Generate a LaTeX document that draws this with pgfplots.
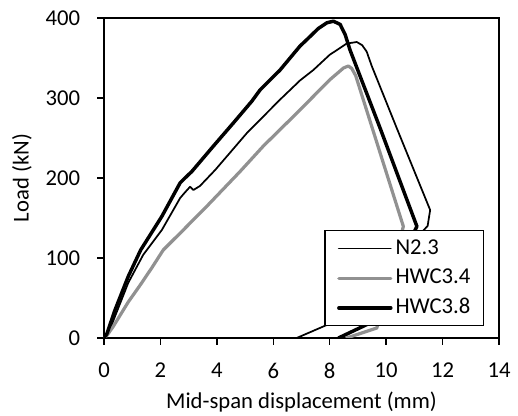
\documentclass[border=0pt]{standalone}
\usepackage{fontspec}
\setmainfont{Carlito}
\usepackage{pgfplots}
\pgfplotsset{compat=1.18}
\definecolor{hwcgray}{RGB}{145,145,145}
\begin{document}
\fontsize{17}{20}\selectfont
\begin{tikzpicture}
\begin{axis}[
  at={(0pt,0pt)}, anchor=south west,
  scale only axis,
  width=296.25pt, height=240pt,
  xmin=0, xmax=14, ymin=0, ymax=400,
  xtick={0,2,...,14}, ytick={0,100,...,400},
  tick align=outside, xtick pos=left, ytick pos=left,
  major tick length=5pt,
  axis line style={line width=1.1pt},
  every tick/.style={line width=1.1pt, black},
  /pgf/number format/assume math mode=true,
  ticklabel style={font=\fontsize{17}{20}\selectfont},
  xticklabel style={yshift=-8pt},
  yticklabel style={xshift=-7pt},
  label style={font=\fontsize{17}{20}\selectfont},
  xlabel={Mid-span displacement (mm)},
  ylabel={Load (kN)},
  xlabel style={at={(axis description cs:0.5,-0.2)}, anchor=center},
  ylabel style={at={(axis description cs:-0.2076,0.5)}, anchor=center},
  legend cell align=left,
  legend style={at={(axis description cs:0.962,0.0375)}, anchor=south east,
    draw=black, line width=0.9pt, fill=white, font=\fontsize{17}{20}\selectfont,
    inner xsep=7.5pt, inner ysep=2pt, row sep=0pt,
    nodes={inner xsep=2.25pt, inner ysep=2.4pt, text height=13pt, text depth=4.5pt}},
  legend image code/.code={\path (0pt,0pt); \draw[#1] (1.5pt,0pt) -- (40.5pt,0pt);},
  every axis plot/.append style={line join=round, line cap=round},
]
\addplot[black, line width=1.3pt] coordinates {
(0,0) (0.15,5) (0.39,27) (0.86,69) (1.39,104) (2.05,135) (2.7,175) (2.87,182)
(3.05,189) (3.17,185) (3.4,190) (3.94,210) (5.06,256) (6.24,298) (6.95,322)
(7.42,335) (8.0,354) (8.6,368) (8.96,370) (9.15,366) (9.31,358) (9.49,340)
(10.38,262) (11.56,160) (11.47,140) (8.3,22) (7.84,15.4) (6.83,0)
};
\addlegendentry{N2.3}
\addplot[hwcgray, line width=2.4pt] coordinates {
(0,0) (0.1,3) (0.33,14.5) (0.86,45) (1.28,66) (1.7,88) (2.1,110) (2.81,135)
(3.64,164.5) (4.82,208) (5.65,240) (6.83,281) (8.01,323) (8.49,337.5)
(8.66,340) (8.78,337) (8.92,328) (10.61,139.5) (9.67,12.5) (8.6,0)
};
\addlegendentry{HWC3.4}
\addplot[black, line width=2.6pt] coordinates {
(0,0) (0.1,5) (0.39,35) (0.86,77) (1.3,110) (2.05,152) (2.7,194) (2.93,202)
(3.11,208) (3.88,240) (4.59,269) (5.24,296) (5.53,310) (6.24,335) (6.95,365)
(7.19,373) (7.6,387) (7.9,394) (8.13,396) (8.37,392) (8.55,379) (8.72,360)
(9.79,262) (11.09,139.5) (9.43,18.75) (8.31,0)
};
\addlegendentry{HWC3.8}
\end{axis}
\pgfresetboundingbox
\path (-78pt,-58.5pt) rectangle (310.5pt,253.5pt);
\end{tikzpicture}
\end{document}
